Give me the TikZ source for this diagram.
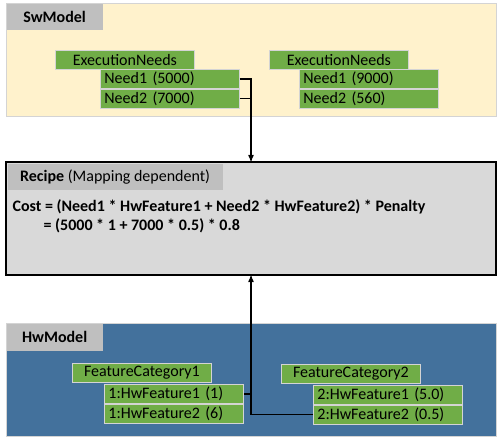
\documentclass[tikz,border=0pt]{standalone}
\usepackage{fontspec}
\setmainfont{Carlito}
\usetikzlibrary{arrows,positioning}

\definecolor{swfill}{HTML}{FFF2CC}
\definecolor{hwfill}{HTML}{43719C}
\definecolor{recipefill}{HTML}{D9D9D9}
\definecolor{tabfill}{HTML}{BFBFBF}
\definecolor{itemfill}{HTML}{70AD47}
\definecolor{rimgray}{HTML}{D4D4D4}

\begin{document}
\begin{tikzpicture}[x=1pt,y=-1pt,>=stealth',line width=1.2pt,
                font=\fontsize{16}{19}\selectfont,
                panel/.style={draw=rimgray,line width=1pt,anchor=north west,minimum width=490pt,minimum height=113pt,inner sep=0pt},
                tab/.style={fill=tabfill,anchor=north west,minimum height=26pt,inner sep=0pt,font=\fontsize{16}{19}\selectfont\bfseries},
                head box/.style={draw=rimgray,fill=itemfill,line width=0.8pt,anchor=north west,minimum width=139pt,minimum height=19pt,inner sep=0pt},
                item box/.style={head box,text width=131pt,align=left,inner xsep=4pt}]
                \useasboundingbox (0,0) rectangle (502,444);

                % software side
                \node[panel,fill=swfill] (sw) at (6,3) {};
                \node[tab,minimum width=96pt] (swtab) at (sw.north west) {SwModel};
                \node[head box] (en1) at (55,50) {ExecutionNeeds};
                \node[item box] (n11) at (100,69) {Need1 (5000)};
                \node[item box] (n12) [below=0pt of n11] {Need2 (7000)};
                \node[head box] (en2) at (269,50) {ExecutionNeeds};
                \node[item box] (n21) at (299,69) {Need1 (9000)};
                \node[item box] (n22) [below=0pt of n21] {Need2 (560)};

                % recipe
                \node[panel,draw=black,line width=2pt,fill=recipefill,minimum height=113pt] (recipe) at (5,161) {};
                \node[tab,minimum width=215pt,font=\fontsize{16}{19}\selectfont] (recipetab) at (7,163) {\textbf{Recipe} (Mapping dependent)};
                \node[anchor=north west,inner sep=0pt,align=left,font=\fontsize{16}{19}\selectfont\bfseries] (cost) at (12,199)
                    {Cost = (Need1 * HwFeature1 + Need2 * HwFeature2) * Penalty\\
                     \hspace{31pt}= (5000 * 1 + 7000 * 0.5) * 0.8};

                % hardware side
                \node[panel,fill=hwfill] (hw) at (6,323) {};
                \node[tab,minimum width=96pt,minimum height=27pt] (hwtab) at (hw.north west) {HwModel};
                \node[head box] (fc1) at (72,363) {FeatureCategory1};
                \node[item box] (h11) at (104,384) {1:HwFeature1 (1)};
                \node[item box] (h12) [below=0pt of h11] {1:HwFeature2 (6)};
                \node[head box] (fc2) at (281,364) {FeatureCategory2};
                \node[item box,minimum width=149pt,text width=141pt] (h21) at (313,385) {2:HwFeature1 (5.0)};
                \node[item box,minimum width=149pt,text width=141pt] (h22) [below=0pt of h21] {2:HwFeature2 (0.5)};

                \draw[->] (n11.east) -| (recipe.north);
                \draw (n12.east) -- (n12.east -| recipe.north);
                \draw[->] (h22.west) -| (recipe.south);
                \draw (h11.east) -- (h11.east -| recipe.south);
\end{tikzpicture}
\end{document}
